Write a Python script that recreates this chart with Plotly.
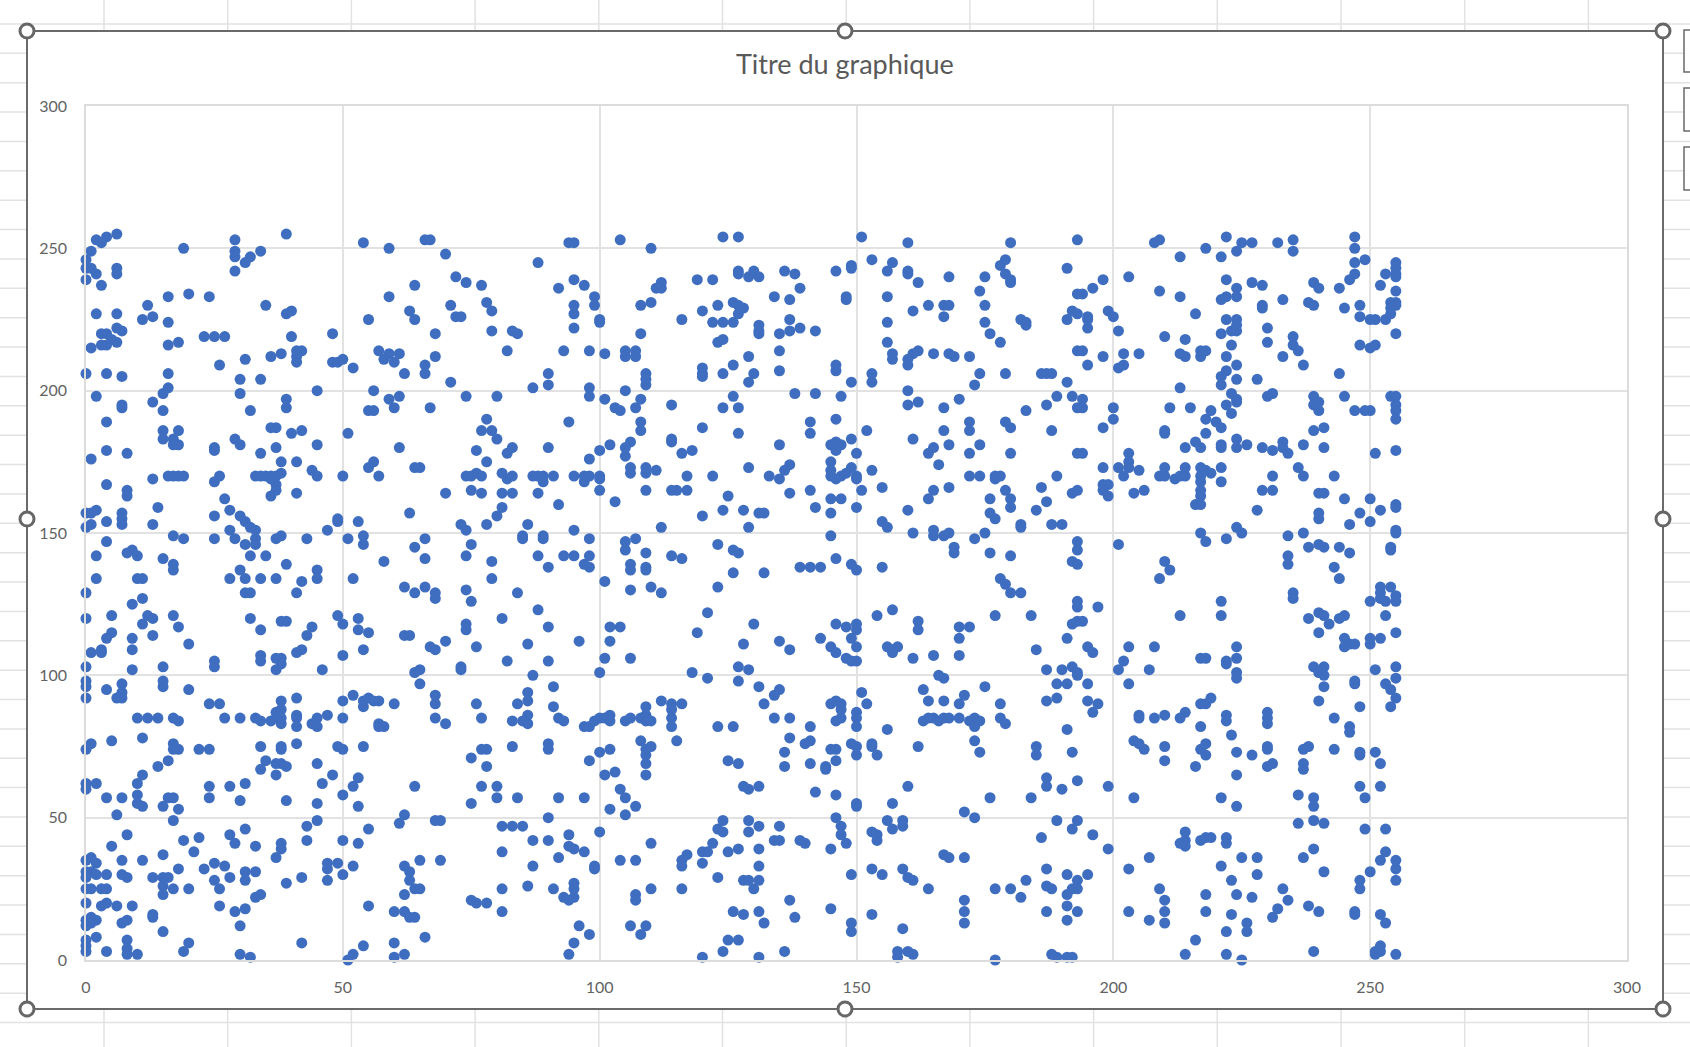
import plotly.graph_objects as go

# Values, grouped by vertical band of the chart: (x, y)
band_a_top = [(6,255),(4,254),(2,253),(3,252),(1,249),(19,250),(29,253),(29,249),(29,247),(29,242),(32,247),(31,245),(34,249),(39,255),(54,252),(59,250),
(0,246),(0,243),(1,243),(2,241),(0,239),(6,243),(6,241),(3,237),(64,237),(59,233),(16,233),(20,234),(24,233),(12,230),(35,230),(2,227),(6,227),(11,225),(13,226),(16,224),(39,227),(40,228),(55,225),(63,228),(64,225),
(3,220),(4,220),(6,222),(7,221),(5,218),(6,217),(3,216),(4,216),(1,215),(16,216),(18,217),(23,219),(25,219),(27,219),(40,219),(48,220),
(57,214),(59,213),(61,213),(58,211),(60,210),(41,214),(42,214),(41,212),(41,210),(38,213),(36,212),(31,211),(48,210),(49,210),(50,211),(52,208),(26,209),
(0,206),(4,206),(7,205),(16,206),(62,206),(30,204),(34,204),(16,201),(15,199),(30,199),(45,200),(56,200),
(2,198),(39,197),(39,194),(61,198),(59,197),(60,194),(13,196),(7,195),(7,194),(15,193),(32,193),(55,193),(56,193),(4,189),
(36,187),(37,187),(15,186),(18,186),(40,185),(42,186),(51,185),(15,183),(17,183),(17,181),(18,181),(29,183),(30,181),(25,180),(25,179),(37,180),(45,181),(61,180),
(4,179),(8,178),(1,176),(34,178),(38,175),(41,175),(56,175),(55,173),(64,173),
(13,169),(16,170),(17,170),(18,170),(19,170),(26,170),(25,168),(33,170),(34,170),(35,170),(36,170),(37,170),(38,171),(36,169),(37,167),(37,165),(36,163),(41,164),
(44,172),(45,170),(50,170),(57,170),(4,167),(8,165),(8,163),(27,162),
(14,159),(2,158),(0,157),(1,157),(7,157),(25,156),(28,158),(30,156),(31,154),(32,152),(33,151),(33,148),(33,146),(31,146),
(0,152),(1,153),(4,154),(7,155),(7,153),(13,153),(49,155),(49,154),(53,154),(47,151),(63,157),
(17,149),(19,148),(25,148),(28,151),(29,148),(37,148),(38,149),(43,148),(51,148),(54,149),(54,146),(64,145),
(4,147),(2,142),(9,144),(8,143),(10,142),(15,141),(17,139),(17,137),(32,142),(35,142),(39,139),(45,137),(45,134),(58,140),
(2,134),(10,134),(11,134),(28,134),(31,134),(34,134),(37,134),(42,133),(52,134),(30,137),(62,131),(64,129),(41,129),(31,129),(32,129),(0,129)]

band_a_bottom = [(11,127),(9,125),(0,120),(5,121),(12,121),(11,118),(13,120),(17,121),(18,117),(32,120),(34,116),(38,119),(39,119),(49,121),(50,118),(53,120),(53,116),(55,115),(44,117),(43,114),(62,114),(63,114),
(5,115),(4,113),(9,113),(13,114),(20,111),(9,109),(1,108),(3,109),(3,108),(54,109),(42,109),(41,108),(50,107),(34,107),(34,105),(37,106),(38,106),(38,104),(37,102),(25,105),(25,103),(0,103),(15,103),(9,102),(46,102),
(64,101),(0,98),(0,96),(0,92),(15,98),(15,96),(7,97),(7,94),(4,95),(6,92),(7,92),(20,95),(24,90),(26,90),(41,92),(38,91),(50,91),(52,93),(54,91),(55,92),(56,91),(57,91),(54,89),(60,90),
(38,88),(37,87),(38,85),(38,83),(37,85),(36,84),(34,84),(33,85),(30,85),(27,85),(41,86),(41,85),(41,82),(45,85),(44,83),(45,82),(47,86),(50,85),(10,85),(12,85),(14,85),(17,85),(18,84),(57,83),(57,82),(58,82),
(11,78),(5,77),(1,76),(0,74),(17,76),(18,74),(17,74),(22,74),(24,74),(34,75),(38,75),(38,74),(41,76),(49,75),(50,74),(54,75),
(16,70),(14,68),(35,70),(34,67),(37,69),(38,69),(39,68),(45,69),(37,65),(11,65),(10,62),(0,62),(2,62),(0,60),(24,61),(28,61),(31,62),(48,65),(46,62),(53,64),(52,61),(64,61),
(4,57),(7,57),(10,58),(10,55),(11,54),(15,54),(16,57),(17,57),(18,53),(24,57),(30,56),(39,56),(50,58),(45,55),(53,54),(6,51),(17,49),(62,51),(61,48),(45,49),(43,47),
(8,44),(5,40),(31,46),(28,44),(29,41),(33,40),(19,42),(22,43),(21,38),(38,41),(38,39),(37,36),(43,42),(50,42),(53,41),(55,46),
(15,37),(7,35),(11,35),(0,35),(1,36),(2,34),(25,34),(27,33),(23,32),(18,32),(47,34),(49,34),(47,32),(52,33),(50,30),(47,28),(62,33),(63,31),
(0,31),(1,31),(2,30),(4,30),(0,29),(7,30),(8,29),(13,29),(15,29),(16,29),(25,28),(28,29),(31,31),(33,31),(31,28),(42,29),(39,27),(63,28),
(0,25),(1,25),(3,25),(4,25),(15,26),(15,23),(17,25),(20,25),(26,25),(62,23),(64,25),
(0,20),(4,20),(3,19),(6,19),(9,19),(26,19),(34,23),(33,22),(31,18),(29,17),(55,19),(60,17),(62,17),(63,15),(64,15),
(1,15),(0,14),(1,13),(2,14),(0,12),(13,16),(13,15),(8,14),(7,13),(30,12),(15,10),(2,8),(8,7),(0,7),(0,5),(0,3),(4,3),(8,4),(8,2),(10,2),(20,6),(19,3),(42,6),(30,2),(32,1),(54,5),(60,6),(62,2),(60,1),(52,2),(51,0)]

band_b_top = [(66,253),(67,253),(94,252),(95,252),(104,253),(110,250),(124,254),(127,254),(70,248),(88,245),
(72,240),(74,238),(77,237),(95,239),(97,237),(92,236),(99,233),(99,230),(112,238),(111,236),(112,236),(119,239),(122,239),(127,242),(127,241),(129,240),
(71,230),(78,231),(79,228),(72,226),(73,226),(95,230),(95,227),(100,225),(100,224),(108,230),(110,231),(116,225),(120,228),(123,230),(126,231),(127,230),(128,229),(127,227),(122,224),(124,224),(126,224),
(68,220),(79,221),(83,221),(84,220),(95,222),(108,220),(123,217),(124,218),
(68,212),(82,214),(93,214),(98,214),(101,213),(105,214),(105,212),(107,214),(107,212),
(66,209),(66,206),(71,203),(90,206),(90,202),(87,201),(98,201),(98,198),(109,206),(109,204),(109,202),(120,208),(120,206),(120,205),(124,206),(126,209),(129,212),(129,203),
(74,198),(80,198),(105,200),(101,197),(108,197),(103,194),(104,193),(107,194),(114,195),(126,198),(124,194),(127,194),
(67,194),(78,190),(77,186),(79,186),(80,183),(94,189),(108,189),(108,186),(120,187),(127,185),
(76,179),(83,180),(82,178),(90,180),(98,176),(100,179),(102,181),(106,182),(105,180),(105,177),(114,183),(114,182),(116,178),(118,179),
(78,175),(65,173),(106,173),(106,171),(109,173),(109,171),(111,172),(129,173),
(74,170),(75,170),(76,171),(77,170),(81,171),(82,169),(83,170),(87,170),(88,170),(89,168),(89,170),(91,170),(95,170),(97,170),(98,170),(97,168),(100,170),(100,169),(117,170),(122,170),
(70,164),(75,165),(77,164),(81,164),(83,164),(88,164),(100,165),(109,165),(114,165),(115,165),(117,165),(125,163),
(92,160),(103,161),(81,159),(80,156),(124,158),(128,158),(120,156),
(73,153),(74,151),(78,153),(86,153),(95,151),(112,152),(129,152),
(85,149),(85,148),(89,149),(89,148),(66,148),(98,148),(105,147),(107,148),(105,144),(75,146),(123,146),(126,144),(127,143),
(74,142),(66,141),(88,142),(93,142),(95,142),(98,142),(97,139),(98,138),(109,143),(114,142),(116,141),(79,140),(106,139),(106,137),(109,138),(109,137),(90,138),
(79,134),(126,136),(101,133),(66,131),(68,129),(74,130),(84,129),(106,130),(110,131),(112,129),(123,131)]

band_b_bottom = [(68,127),(75,126),(88,123),(121,122),(81,120),(74,118),(74,116),(90,117),(102,117),(104,117),(119,115),(70,112),(67,110),(68,109),(76,110),(86,111),(96,112),(102,112),(128,111),
(82,105),(90,105),(101,106),(106,106),(73,103),(73,102),(65,102),(127,103),(129,102),(87,100),(100,101),(118,101),(121,99),(127,98),
(65,97),(91,96),(68,93),(68,90),(86,94),(86,91),(84,90),(76,90),(91,89),(112,91),(114,90),(116,90),(114,88),(109,89),
(68,85),(70,83),(77,85),(83,84),(86,86),(85,84),(86,83),(92,85),(93,84),(97,82),(98,82),(99,84),(100,85),(101,85),(102,86),(102,84),(105,84),(106,85),(108,85),(109,84),(110,84),(109,86),(114,85),(114,82),(123,82),(126,82),
(108,77),(110,75),(109,74),(109,72),(109,69),(115,77),(77,74),(78,74),(83,75),(90,76),(90,74),(102,74),(100,73),(75,71),(98,70),(78,68),(125,70),(127,69),(101,65),(103,66),(109,65),
(77,61),(80,61),(75,55),(80,57),(84,57),(92,57),(97,57),(104,60),(105,57),(107,54),(102,53),(105,51),(128,61),(129,60),
(90,50),(68,49),(69,49),(81,47),(83,47),(85,47),(124,49),(123,46),(124,45),(129,49),(129,45),(100,45),(94,44),(87,42),(90,42),(94,40),(95,39),(97,38),(110,41),(122,41),
(81,38),(65,35),(69,35),(92,36),(104,35),(107,35),(117,37),(116,35),(116,33),(120,38),(121,38),(120,34),(125,38),(127,39),(87,33),(99,33),(99,32),(123,29),(128,28),(129,28),
(86,26),(81,25),(65,25),(91,25),(95,27),(95,25),(93,22),(94,21),(95,22),(107,23),(107,21),(110,25),(116,25),(75,21),(76,20),(78,20),(81,17),(126,17),(128,16),
(96,12),(98,9),(106,12),(109,12),(108,9),(66,8),(95,6),(94,2),(120,1),(124,3),(125,7),(127,7)]

band_c_top = [(151,254),(160,252),(180,252),(193,253),(153,246),(157,245),(156,242),(149,244),(149,243),(146,242),(136,242),(138,241),(130,242),(131,240),(160,242),(160,241),(162,238),(168,240),(175,240),(179,246),(178,244),(179,241),(180,239),(180,238),(191,243),
(139,236),(134,233),(137,232),(148,233),(148,232),(156,233),(174,235),(193,234),(164,230),(167,230),(168,230),(175,230),(161,228),(167,226),
(137,225),(156,224),(175,224),(182,225),(183,224),(183,223),(191,225),(192,228),(193,227),(131,223),(131,221),(131,220),(135,220),(137,221),(139,222),(142,221),(176,220),(178,217),(156,217),
(135,214),(157,213),(157,211),(162,214),(161,213),(160,211),(160,209),(165,213),(168,213),(169,212),(172,212),(193,214),
(135,207),(130,206),(146,209),(146,207),(153,206),(153,203),(149,203),(174,206),(173,202),(179,206),(186,206),(187,206),(188,206),(191,203),
(138,199),(142,199),(147,198),(160,200),(160,195),(162,196),(170,197),(167,194),(189,198),(192,198),(187,195),(193,194),(183,193),
(141,189),(146,190),(172,189),(172,186),(179,189),(180,187),(152,186),(167,186),(188,186),(141,185),
(149,183),(161,183),(146,182),(145,181),(147,181),(146,179),(135,181),(168,181),(174,181),(165,180),(164,178),(150,178),(172,178),(180,178),(193,178),
(137,174),(136,172),(166,174),(145,175),(145,172),(149,173),(153,172),
(133,170),(135,169),(145,170),(146,169),(147,170),(148,171),(150,170),(150,169),(172,170),(174,170),(177,170),(178,170),(177,169),(189,170),
(137,164),(141,165),(151,165),(155,166),(168,166),(165,165),(164,162),(179,165),(180,162),(180,159),(186,166),(192,164),(193,165),(145,162),(147,162),(176,162),(187,161),
(142,159),(145,157),(150,159),(131,157),(132,157),(160,158),(176,157),(177,155),(185,158),(155,154),(156,152),(182,153),(182,152),(188,153),(190,153),
(145,149),(161,150),(165,151),(165,149),(167,149),(168,150),(175,150),(173,148),(193,147),(193,144),(169,145),(169,143),(176,143),(180,142),
(146,141),(139,138),(141,138),(143,138),(149,139),(150,137),(155,138),(132,136),(192,140),(193,139),(178,134),(179,132),(180,129),(182,129)]

band_c_bottom = [(157,123),(154,121),(130,118),(146,118),(148,117),(150,118),(150,116),(149,113),(162,119),(162,116),(170,117),(172,117),(170,113),(177,121),(184,121),(193,126),(193,124),(192,118),(193,119),(191,113),
(135,112),(137,109),(143,113),(145,110),(146,108),(148,106),(149,105),(150,105),(150,110),(156,110),(158,110),(157,108),(157,109),(161,106),(165,107),(170,107),(185,109),
(187,102),(190,102),(192,103),(193,101),(193,100),(166,100),(167,99),(131,96),(175,96),(189,97),(191,97),(135,95),(134,93),(151,94),(163,95),(171,93),
(132,90),(145,90),(146,91),(147,90),(147,88),(152,90),(164,91),(167,91),(170,90),(178,90),(187,91),(189,92),
(134,85),(137,85),(146,84),(147,85),(150,87),(150,85),(150,82),(141,82),(156,81),(163,84),(164,85),(165,85),(166,84),(167,85),(168,85),(170,85),(172,84),(173,85),(173,82),(174,84),(178,85),(179,83),(191,81),
(137,78),(141,77),(140,76),(149,76),(150,75),(150,72),(153,76),(153,75),(154,72),(145,74),(146,74),(162,75),(173,77),(174,73),(185,75),(185,72),(192,73),(136,73),(136,68),(141,69),(146,70),(144,68),(144,67),
(131,61),(160,61),(187,64),(187,61),(190,60),(193,63),(142,59),(146,58),(150,55),(150,54),(157,55),(176,57),(184,57),
(171,52),(173,50),(146,50),(156,49),(159,49),(159,47),(157,46),(189,49),(193,49),(192,46),(131,47),(135,47),(147,47),(147,44),(148,41),(153,45),(154,44),(154,42),(186,43),
(134,42),(135,42),(139,42),(140,41),(145,39),(131,39),(167,37),(168,36),(171,36),(131,33),(149,30),(153,32),(155,30),(159,32),(160,29),(161,28),(164,25),
(131,28),(130,25),(137,21),(145,18),(131,17),(138,15),(132,13),(153,16),(149,13),(149,10),(159,11),(171,21),(171,17),(171,13),(177,25),(180,25),(182,22),(183,28),
(187,32),(191,30),(193,28),(187,26),(188,25),(191,23),(192,25),(193,25),(187,17),(191,19),(193,17),(191,14),
(136,3),(131,1),(158,3),(158,1),(160,3),(161,2),(177,0),(188,2),(189,1),(191,1),(192,1)]

band_d_top = [(209,253),(208,252),(222,254),(225,252),(227,252),(232,252),(235,253),(235,249),(247,254),(247,250),(218,250),(213,247),(221,247),(224,249),(247,245),(249,246),(255,245),
(198,239),(196,236),(194,234),(203,240),(222,239),(227,238),(229,237),(239,238),(240,236),(247,241),(246,239),(244,236),(252,237),(253,241),(255,241),(255,243),(255,240),
(209,235),(213,233),(224,236),(224,233),(222,233),(221,232),(233,232),(255,235),(229,230),(229,229),(238,231),(239,230),(245,229),(248,230),(248,226),(254,231),(255,231),(254,229),(255,230),(254,227),
(195,226),(195,225),(195,222),(199,228),(200,226),(201,221),(216,227),(222,225),(224,225),(224,223),(223,221),(224,221),(250,225),(251,225),(253,225),
(210,219),(214,218),(221,220),(223,216),(230,222),(230,217),(235,219),(235,216),(236,214),(255,220),(248,216),(250,215),(251,216),
(194,214),(198,212),(202,213),(205,213),(213,213),(214,212),(217,214),(218,214),(217,212),(222,212),(233,212),
(195,209),(201,208),(202,209),(224,209),(237,209),(244,206),(222,207),(221,205),(221,202),(224,204),(228,204),
(213,201),(231,199),(230,198),(223,199),(224,197),(224,196),(239,198),(239,195),(240,193),(240,196),(245,198),(254,198),(255,198),(255,195),(255,193),(255,190),
(194,197),(194,194),(200,194),(200,190),(198,187),(211,194),(215,194),(222,195),(223,192),(219,193),(218,190),(220,189),(221,187),(247,193),(249,193),(250,193),
(210,186),(210,185),(218,185),(239,186),(241,187),(216,182),(217,180),(214,180),(221,181),(221,180),(224,183),(224,180),(226,181),(229,180),(231,179),(233,182),(233,180),(234,178),(237,181),(241,180),(251,178),(255,179),
(194,178),(203,178),(203,175),(201,173),(202,170),(203,173),(198,173),(205,172),
(209,170),(210,173),(210,170),(212,169),(213,170),(214,173),(214,170),(217,173),(217,170),(218,172),(219,171),(217,168),(217,165),(217,163),(216,160),(217,160),(221,173),(221,168),
(236,173),(237,170),(231,170),(243,170),(198,167),(199,167),(198,165),(199,163),(204,164),(206,165),(229,165),(231,165),(240,164),(241,164),(245,162),(250,162),(255,160),(255,159),
(228,158),(248,157),(252,158),(240,157),(240,155),(250,154),(246,153),(224,152),(225,150),(217,150),(218,147),(222,148),(234,149),(237,150),(255,151),(255,150),
(201,146),(238,145),(240,146),(241,145),(244,145),(246,143),(254,145),(254,144),(234,142),(234,139),(243,138),(244,134),(210,140),(211,137),(209,134),(252,131),(254,131),(252,129),(235,129),(255,128)]

band_d_bottom = [(197,124),(194,119),(213,121),(221,126),(221,121),(235,127),(238,120),(240,122),(241,121),(242,118),(244,120),(245,121),(250,126),(252,127),(253,126),(255,126),(253,121),
(240,115),(245,113),(245,110),(246,111),(247,111),(250,113),(250,111),(252,113),(255,115),(195,110),(196,108),(203,110),(208,110),(224,110),(224,106),(217,106),(218,106),(222,105),(222,104),(202,105),(201,102),(207,102),
(239,103),(241,103),(240,101),(241,100),(241,96),(251,102),(255,103),(255,99),(224,101),(224,99),(195,97),(203,97),(247,98),(247,97),(253,97),(254,95),(255,92),(248,89),(254,89),
(195,91),(197,90),(196,87),(240,91),(219,92),(218,90),(217,90),(205,86),(205,85),(208,85),(210,86),(214,87),(213,85),(222,86),(222,84),(230,87),(230,85),(230,83),(243,85),(217,82),(246,82),(246,80),
(223,79),(204,77),(205,76),(206,74),(210,75),(210,70),(217,74),(218,76),(218,72),(224,73),(227,72),(230,75),(230,74),(231,69),(230,68),(216,68),(237,74),(238,75),(237,69),(237,67),(243,74),(248,73),(248,72),(251,73),(252,69),
(224,65),(199,61),(204,57),(221,57),(224,54),(236,58),(239,57),(239,54),(248,61),(249,57),(252,61),(236,48),(239,49),(241,48),(249,46),(253,46),
(196,44),(199,39),(214,45),(213,41),(214,40),(214,42),(217,42),(218,43),(219,43),(222,43),(222,41),(207,36),(225,36),(228,36),(237,36),(239,39),(253,38),(252,35),(255,35),(255,32),(255,28),
(203,32),(221,33),(228,30),(195,30),(241,31),(250,31),(248,28),(248,25),(223,28),(209,25),(218,23),(224,23),(227,22),(233,25),(234,21),(210,21),
(203,17),(210,17),(218,17),(232,18),(231,15),(238,19),(240,17),(247,17),(247,16),(252,16),(253,13),(207,14),(210,13),(223,16),(226,13),(226,10),(222,10),(216,7),
(214,2),(222,2),(225,0),(239,3),(252,5),(252,3),(251,2),(251,3),(255,2)]

bands = [band_a_top, band_a_bottom, band_b_top, band_b_bottom,
         band_c_top, band_c_bottom, band_d_top, band_d_bottom]
x_values = [p[0] for band in bands for p in band]
y_values = [p[1] for band in bands for p in band]

tick_values = [0, 50, 100, 150, 200, 250, 300]
title_text = "Titre du graphique"

W, H = 1690, 1047
L, R, T, B = 86, 1627, 106, 960

def px(v): return (v - L) / (R - L)
def py(v): return (B - v) / (B - T)

shapes = []
def line(x0, y0, x1, y1, color="#e2e2e2", width=1.5):
    shapes.append(dict(type="line", xref="paper", yref="paper", layer="below",
                       x0=px(x0), y0=py(y0), x1=px(x1), y1=py(y1),
                       line=dict(color=color, width=width)))

# Surrounding worksheet grid
row = 24.0
while row < H:
    line(0, row, W, row)
    row += 29.37
col = 104.0
while col < W:
    line(col, 0, col, H)
    col += 123.7

# Chart area frame
shapes.append(dict(type="rect", xref="paper", yref="paper", layer="below",
                   x0=px(27), y0=py(31), x1=px(1663), y1=py(1009),
                   fillcolor="white", line=dict(color="#6a6a6a", width=2)))

# Side buttons
for top, bottom in [(30, 72), (88, 131), (147, 190)]:
    shapes.append(dict(type="rect", xref="paper", yref="paper", layer="below",
                       x0=px(1684), y0=py(top), x1=px(1700), y1=py(bottom),
                       fillcolor="white", line=dict(color="#6a6a6a", width=1.5)))

# Selection handles
for cx, cy in [(27, 31), (845, 31), (1663, 31), (27, 519), (1663, 519),
               (27, 1009), (845, 1009), (1663, 1009)]:
    shapes.append(dict(type="circle", xref="paper", yref="paper", layer="above",
                       x0=px(cx - 7), y0=py(cy - 7), x1=px(cx + 7), y1=py(cy + 7),
                       fillcolor="white", line=dict(color="#666666", width=3)))

fig = go.Figure(go.Scatter(
    x=x_values, y=y_values, mode="markers", cliponaxis=False,
    marker=dict(color="#3F6EC0", size=11, line=dict(width=0)),
    showlegend=False,
))

def axis(standoff):
    return dict(range=[0, 300], tickvals=tick_values, ticktext=[str(t) for t in tick_values],
                showgrid=True, gridcolor="#e2e2e2", gridwidth=1.5, zeroline=False,
                showline=True, linecolor="#dcdcdc", linewidth=1.5, mirror=True,
                ticks="", ticklabelstandoff=standoff,
                tickfont=dict(family="Lato, 'Open Sans', sans-serif", size=16, color="#636363"))

fig.update_layout(
    width=W, height=H, autosize=False,
    margin=dict(l=L, r=W - R, t=T, b=H - B, pad=0),
    paper_bgcolor="white", plot_bgcolor="rgba(0,0,0,0)",
    xaxis=axis(12), yaxis=axis(14), shapes=shapes,
    annotations=[dict(text=title_text, xref="paper", yref="paper", showarrow=False,
                      x=px(845), y=py(63), xanchor="center", yanchor="middle",
                      font=dict(family="Lato, 'Open Sans', sans-serif", size=27, color="#595959"))],
)

fig.write_html("out.html", config={"displayModeBar": False},
               post_script="document.body.style.margin='0';document.body.style.overflow='hidden';")
